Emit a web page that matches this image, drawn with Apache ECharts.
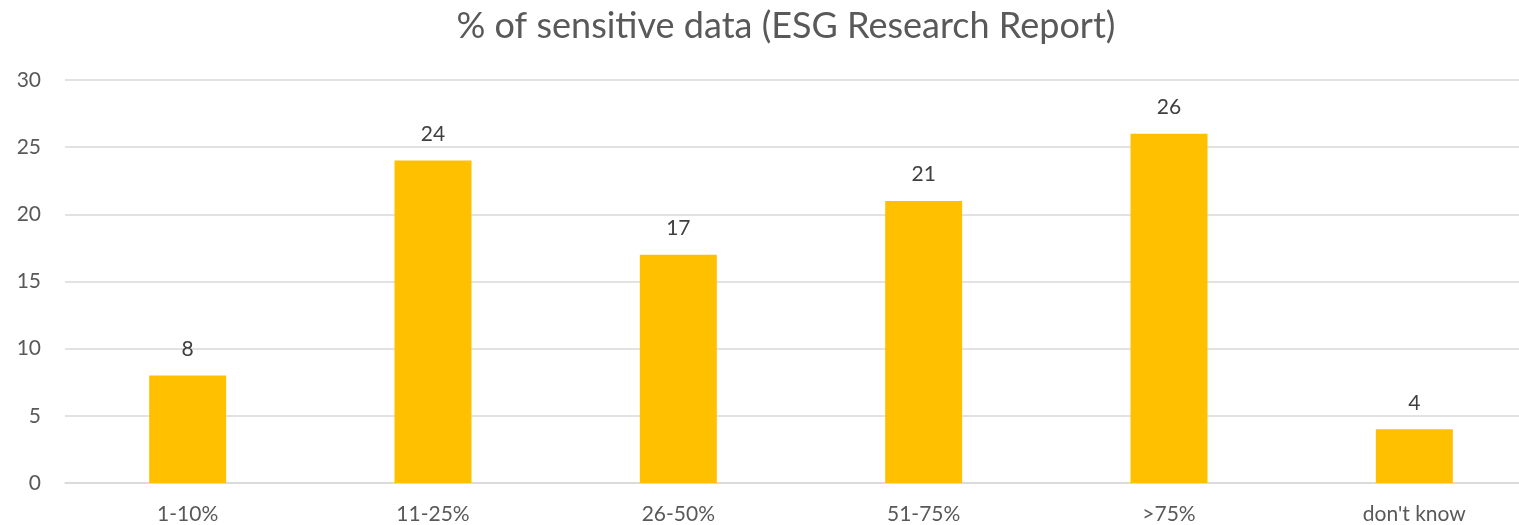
<!DOCTYPE html>
<html>
<head>
<meta charset="utf-8">
<script src="https://cdn.jsdelivr.net/npm/echarts@6/dist/echarts.min.js"></script>
<style>
  html, body { margin: 0; padding: 0; background: #fff; overflow: hidden; width: 1519px; height: 525px; }
  #chart { width: 1537px; height: 525px; }
</style>
</head>
<body>
<div id="chart"></div>
<script>
// Share of sensitive data held, by bucket
const categories = ['1-10%', '11-25%', '26-50%', '51-75%', '>75%', "don't know"];
const values = [8, 24, 17, 21, 26, 4];
const yTicks = { min: 0, max: 30, interval: 5 };

const font = 'Lato';
const chart = echarts.init(document.getElementById('chart'));
chart.setOption({
  animation: false,
  title: {
    text: '% of sensitive data (ESG Research Report)',
    left: 781,
    textAlign: 'center',
    top: 3,
    textStyle: { fontFamily: font, fontSize: 36, fontWeight: 'normal', color: '#595959' }
  },
  grid: { left: 65, top: 80, right: 0, height: 403, containLabel: false },
  xAxis: {
    type: 'category',
    data: categories,
    axisLine: { lineStyle: { color: '#d9d9d9', width: 1.5 } },
    axisTick: { show: false },
    axisLabel: { fontFamily: font, fontSize: 21, color: '#595959', margin: 21 }
  },
  yAxis: {
    type: 'value',
    min: yTicks.min,
    max: yTicks.max,
    interval: yTicks.interval,
    axisLine: { show: false },
    axisTick: { show: false },
    splitLine: { lineStyle: { color: '#d9d9d9', width: 1.5 } },
    axisLabel: { fontFamily: font, fontSize: 21, color: '#595959', margin: 24 }
  },
  series: [{
    type: 'bar',
    data: values,
    barWidth: 77,
    itemStyle: { color: '#ffc000' },
    label: {
      show: true,
      position: 'top',
      distance: 16,
      fontFamily: font,
      fontSize: 21,
      color: '#404040'
    }
  }]
});
</script>
</body>
</html>
